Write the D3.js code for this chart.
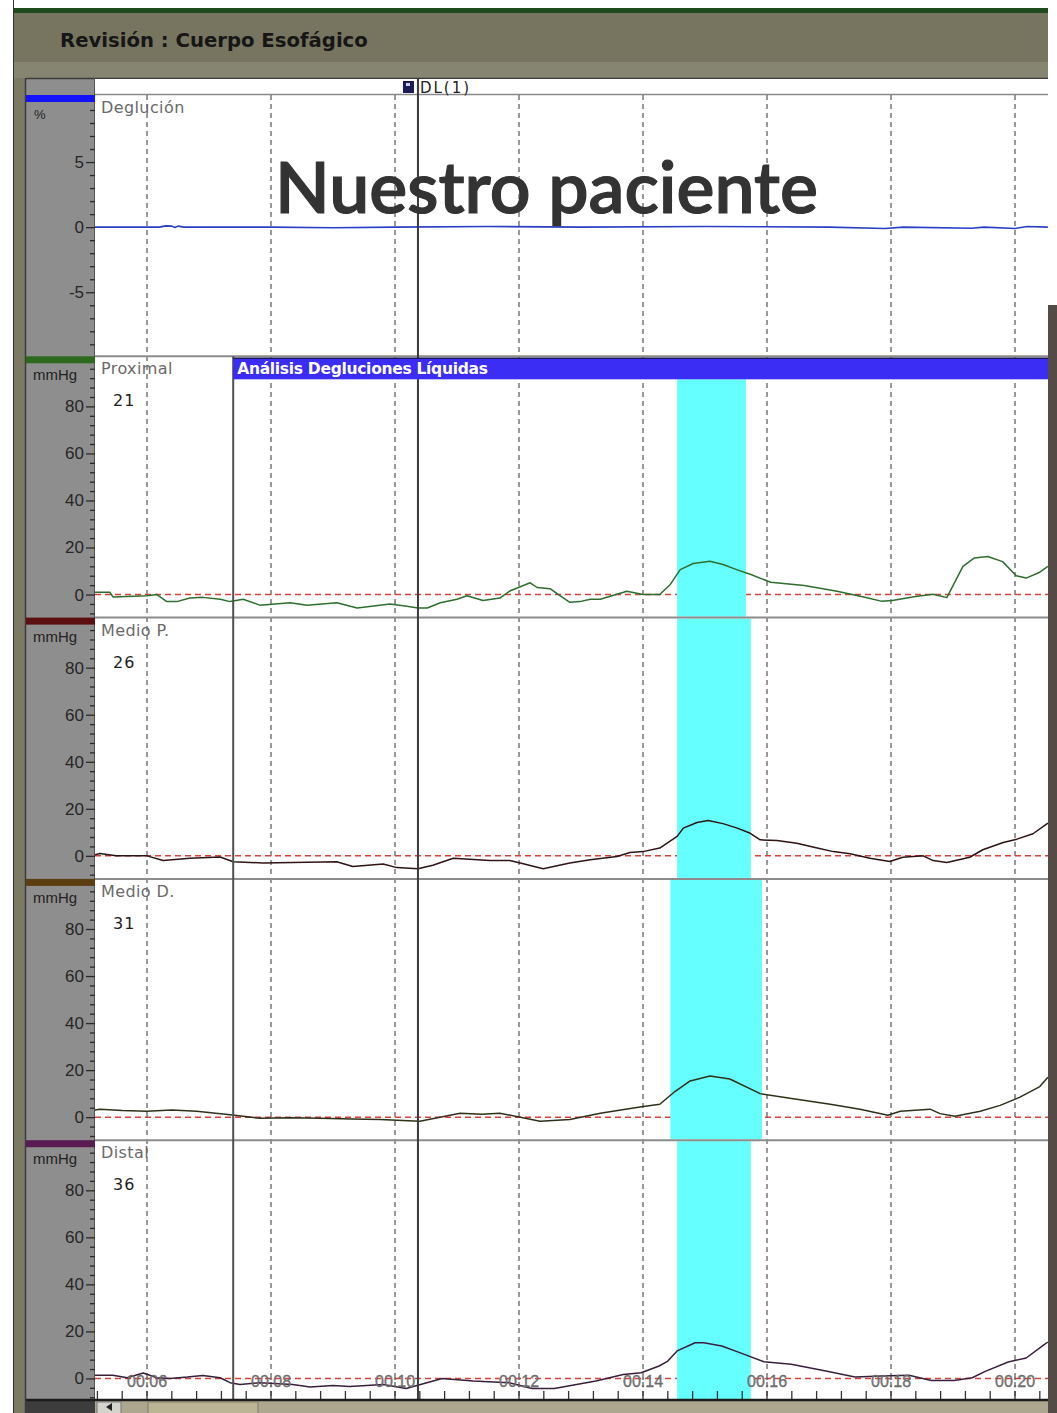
<!DOCTYPE html>
<html>
<head>
<meta charset="utf-8">
<script src="https://cdn.jsdelivr.net/npm/d3@7"></script>
<style>
  html, body { margin: 0; padding: 0; background: #ffffff; }
  svg { display: block; }
</style>
</head>
<body>
<div id="chart"></div>
<script>
// ---- Channels ---------------------------------------------------------
const channelNames   = ["Deglución", "Proximal", "Medio P.", "Medio D.", "Distal"];
const channelUnits   = ["%", "mmHg", "mmHg", "mmHg", "mmHg"];
const channelNumbers = ["", "21", "26", "31", "36"];

// ---- Axis ticks -------------------------------------------------------
const timeTicks      = [6, 8, 10, 12, 14, 16, 18, 20];
const timeTickLabels = ["00:06", "00:08", "00:10", "00:12", "00:14", "00:16", "00:18", "00:20"];
const swallowTicks   = [-5, 0, 5];
const pressureTicks  = [0, 20, 40, 60, 80];

// ---- Traces (time in s, value in % or mmHg) --------------------------
const deglucionT = [5.16, 6.2, 6.3, 6.4, 6.45, 6.5, 6.6, 8.0, 9.0, 10.0, 11.5, 13.0, 15.0, 17.0, 17.9, 18.2, 19.3, 19.5, 20.0, 20.2, 20.53];
const deglucionV = [0, 0, 0.1, 0.08, -0.03, 0.08, 0, 0, -0.05, 0, 0.05, 0, 0.05, 0, -0.1, 0, -0.08, 0, -0.1, 0.05, 0];

const proximalT = [5.16, 5.40, 5.45, 6.0, 6.16, 6.32, 6.48, 6.69, 6.9, 7.18, 7.34, 7.55, 7.82, 8.31, 8.58, 9.06, 9.39, 9.92, 10.19, 10.37, 10.52, 10.73, 11.0, 11.16, 11.42, 11.69, 11.85, 12.18, 12.29, 12.5, 12.66, 12.82, 12.98, 13.15, 13.31, 13.74, 14.0, 14.27, 14.44, 14.6, 14.81, 15.08, 15.29, 15.51, 15.74, 16.06, 16.6, 17.13, 17.56, 17.84, 18.02, 18.42, 18.68, 18.9, 19.16, 19.34, 19.56, 19.8, 20.02, 20.18, 20.4, 20.53];
const proximalV = [1, 1, -1, -0.5, 0, -3, -3, -1.5, -1.2, -2, -3, -2, -4.5, -3.5, -4.5, -3.5, -5.7, -4, -5, -5.7, -5.7, -3.5, -2, -0.5, -2.5, -1.5, 1.5, 5, 3, 2.5, -0.5, -3.3, -3, -2, -2, 1.4, 0, 0, 4.3, 10.6, 13.2, 14.2, 12.8, 10.6, 8.5, 5.2, 3.8, 1.4, -1, -2.8, -2.5, -0.7, 0.1, -1.3, 12, 15.5, 16.2, 14, 8, 7, 9.5, 12];

const medioPT = [5.16, 5.24, 5.5, 6.0, 6.26, 6.69, 7.18, 7.39, 7.87, 9.06, 9.32, 9.81, 10.03, 10.37, 10.61, 10.94, 11.53, 11.85, 12.02, 12.39, 12.82, 13.15, 13.58, 13.79, 14.0, 14.27, 14.55, 14.65, 14.87, 15.05, 15.29, 15.52, 15.73, 15.89, 16.16, 16.48, 16.81, 17.07, 17.34, 17.66, 17.98, 18.19, 18.52, 18.68, 18.9, 19.27, 19.48, 19.81, 20.03, 20.29, 20.53];
const medioPV = [0.5, 1, 0, 0, -2, -1, -0.5, -2.5, -3, -2.5, -4.5, -3.5, -5, -5.5, -4, -1, -2, -2, -3, -5.5, -3, -1.7, -0.3, 1.4, 1.8, 3.3, 8.3, 11.8, 14.2, 15, 13.7, 11.8, 9.6, 6.8, 6.5, 5.4, 3.3, 1.8, 0.9, -1, -2.4, -0.6, 0, -2, -2.8, -0.6, 2.6, 5.7, 7.1, 9.4, 13.9];

const medioDT = [5.16, 5.24, 5.6, 6.0, 6.4, 6.8, 7.34, 7.82, 8.3, 8.79, 9.3, 9.76, 10.4, 11.05, 11.4, 11.69, 12.34, 12.82, 13.31, 13.95, 14.27, 14.52, 14.76, 15.08, 15.4, 15.89, 16.37, 17.02, 17.5, 17.95, 18.15, 18.63, 18.79, 19.03, 19.44, 19.76, 20.08, 20.4, 20.53];
const medioDV = [3, 3.4, 2.8, 2.5, 3, 2.5, 1, -0.5, -0.3, -0.5, -0.8, -1, -1.7, 1.7, 1.2, 1.7, -1.7, -1, 1.7, 4.3, 5.5, 11, 15.4, 17.5, 16.2, 10, 8, 5.5, 3.4, 0.8, 2.5, 3.4, 1.5, 0.4, 2.5, 5, 8.5, 13, 17];

const distalT = [5.16, 5.45, 5.68, 5.94, 6.16, 6.37, 6.65, 6.9, 7.18, 7.34, 7.5, 7.82, 8.35, 8.63, 9.0, 9.27, 9.81, 10.18, 10.76, 11.26, 11.84, 12.21, 12.57, 13.24, 13.68, 13.97, 14.26, 14.4, 14.55, 14.84, 14.98, 15.27, 15.56, 15.95, 16.39, 16.97, 17.42, 17.85, 18.29, 18.65, 19.02, 19.31, 19.52, 19.89, 20.18, 20.47, 20.53];
const distalV = [1.4, 1.4, 0.3, 2.3, 0.3, 0, 0.6, 1.3, 0.3, -1.8, -2.6, -1.8, -2.6, -3.6, -3, -3.4, -2.6, -4.3, 0, -1.1, -1.8, -4.3, -4.3, -1.1, 1.7, 2.4, 5.3, 7.4, 11.7, 15.2, 15.2, 13.8, 11, 7.1, 6, 3.1, 0.6, 1, 1.4, -0.9, -0.9, 0.3, 3, 7, 8.7, 14.4, 15.5];

const traceT = [deglucionT, proximalT, medioPT, medioDT, distalT];
const traceV = [deglucionV, proximalV, medioPV, medioDV, distalV];

// ---- Swallow analysis windows per pressure channel (s) ----------------
const windowStart = [14.55, 14.55, 14.44, 14.55];
const windowEnd   = [15.66, 15.74, 15.92, 15.74];
const analysisStart = 7.39;   // start of "Análisis Degluciones Líquidas"
const cursorTime    = 10.37;  // DL(1) marker

// ---- Look ------------------------------------------------------------
const W = 1057, H = 1413;
const plotL = 95, plotR = 1048;
const stripTop = 78, firstTop = 95, panelH = 261.3;
const plotBottom = 1399;
const traceColors = ["#2b3ec8", "#2f6e2f", "#2e1414", "#30301a", "#3a1f3c"];
const barColors   = ["#1212ff", "#2d6a1e", "#5c0f0f", "#5c3d10", "#5a1a52"];

const svg = d3.select("#chart").append("svg")
  .attr("width", W).attr("height", H)
  .attr("viewBox", `0 0 ${W} ${H}`);

const x = d3.scaleLinear().domain([5.161, 20.532]).range([plotL, plotR]);

// Scale a text's font size so it spans a given width
function fitWidth(sel, width) {
  const size = +sel.attr("font-size");
  const w = sel.node().getComputedTextLength();
  sel.attr("font-size", size * width / w);
  return sel;
}

// Window frame
svg.append("rect").attr("x", 0).attr("y", 0).attr("width", W).attr("height", H).attr("fill", "#ffffff");
svg.append("line").attr("x1", 13.5).attr("x2", 13.5).attr("y1", 0).attr("y2", H).attr("stroke", "#333").attr("stroke-width", 1);
svg.append("rect").attr("x", 14).attr("y", 13).attr("width", plotR - 14).attr("height", H - 13).attr("fill", "#7c7a65");
svg.append("rect").attr("x", 14).attr("y", 8).attr("width", plotR - 14).attr("height", 5).attr("fill", "#1e4a1e");
svg.append("rect").attr("x", 14).attr("y", 13).attr("width", plotR - 14).attr("height", 49).attr("fill", "#77755f");
svg.append("rect").attr("x", 14).attr("y", 62).attr("width", plotR - 14).attr("height", 16).attr("fill", "#868571");
svg.append("rect").attr("x", plotR).attr("y", 305).attr("width", W - plotR).attr("height", H - 305).attr("fill", "#544b46");

fitWidth(svg.append("text")
  .attr("x", 60).attr("y", 47)
  .attr("font-family", "'DejaVu Sans', Verdana, sans-serif")
  .attr("font-weight", "bold").attr("font-size", 18)
  .attr("fill", "#161616")
  .text("Revisión : Cuerpo Esofágico"), 308);

// Axis column and plot surface
svg.append("rect").attr("x", 26).attr("y", stripTop).attr("width", plotL - 26).attr("height", plotBottom - stripTop).attr("fill", "#8e8e8e");
svg.append("line").attr("x1", 25.5).attr("x2", 25.5).attr("y1", stripTop).attr("y2", H).attr("stroke", "#3c3c3c").attr("stroke-width", 1.5);
svg.append("line").attr("x1", 26).attr("x2", plotR).attr("y1", stripTop + 0.5).attr("y2", stripTop + 0.5).attr("stroke", "#3c3c3c").attr("stroke-width", 1.5);
svg.append("rect").attr("x", plotL).attr("y", stripTop + 1).attr("width", plotR - plotL).attr("height", plotBottom - stripTop - 1).attr("fill", "#ffffff");
svg.append("line").attr("x1", plotL).attr("x2", plotR).attr("y1", firstTop - 0.5).attr("y2", firstTop - 0.5).attr("stroke", "#8a8a8a").attr("stroke-width", 1.5);
svg.append("line").attr("x1", plotL - 0.5).attr("x2", plotL - 0.5).attr("y1", stripTop).attr("y2", plotBottom).attr("stroke", "#555").attr("stroke-width", 1);

// Vertical time grid
svg.append("g").selectAll("line").data(timeTicks).join("line")
  .attr("x1", d => x(d)).attr("x2", d => x(d))
  .attr("y1", firstTop).attr("y2", plotBottom)
  .attr("stroke", "#6e6e6e").attr("stroke-width", 1.4)
  .attr("stroke-dasharray", "5,4");

// Panels
const panels = channelNames.map((name, i) => {
  const top = firstTop + i * panelH;
  const y = d3.scaleLinear()
    .domain(i === 0 ? [-9.92, 10.15] : [-9.8, 101.3])
    .range([top + panelH, top]);
  return { name, i, top, y };
});

const defs = svg.append("defs");
panels.forEach(p => {
  defs.append("clipPath").attr("id", "clip" + p.i)
    .append("rect").attr("x", plotL).attr("y", p.top).attr("width", plotR - plotL).attr("height", panelH);
});

// Zero reference lines for pressure channels
panels.slice(1).forEach(p => {
  svg.append("line")
    .attr("x1", plotL).attr("x2", plotR)
    .attr("y1", p.y(0)).attr("y2", p.y(0))
    .attr("stroke", "#d9413a").attr("stroke-width", 1.5)
    .attr("stroke-dasharray", "6,4");
});

// Swallow analysis windows
const analysisBarBottom = panels[1].top + 23;
panels.slice(1).forEach((p, k) => {
  const y0 = k === 0 ? analysisBarBottom : p.top + 1;
  svg.append("rect")
    .attr("x", x(windowStart[k])).attr("y", y0)
    .attr("width", x(windowEnd[k]) - x(windowStart[k]))
    .attr("height", p.top + panelH - 1 - y0)
    .attr("fill", "#66ffff");
});

// Traces
const line = d3.line().curve(d3.curveLinear);
panels.forEach(p => {
  const pts = traceT[p.i].map((t, j) => [x(t), p.y(traceV[p.i][j])]);
  svg.append("path")
    .attr("clip-path", `url(#clip${p.i})`)
    .attr("d", line(pts))
    .attr("fill", "none")
    .attr("stroke", traceColors[p.i])
    .attr("stroke-width", p.i === 0 ? 1.6 : 1.5)
    .attr("stroke-linejoin", "round");
});

// Panel separators
panels.slice(1).forEach(p => {
  svg.append("line")
    .attr("x1", plotL).attr("x2", plotR)
    .attr("y1", p.top).attr("y2", p.top)
    .attr("stroke", "#8c8c8c").attr("stroke-width", 2);
});

// Y axes, units and colour keys
panels.forEach(p => {
  const isSwallow = p.i === 0;
  const major = isSwallow ? swallowTicks : pressureTicks;
  const minor = isSwallow
    ? d3.range(-9, 11).filter(v => !major.includes(v))
    : d3.range(-8, 101, 4).filter(v => v % 20 !== 0);

  const gMinor = svg.append("g").attr("transform", `translate(${plotL},0)`)
    .call(d3.axisLeft(p.y).tickValues(minor).tickSize(5).tickFormat(""));
  gMinor.select(".domain").remove();
  gMinor.selectAll("line").attr("stroke", "#2a2a2a").attr("stroke-width", 1.3);

  const gMajor = svg.append("g").attr("transform", `translate(${plotL},0)`)
    .call(d3.axisLeft(p.y).tickValues(major).tickSize(9).tickPadding(2).tickFormat(d => String(d)));
  gMajor.select(".domain").remove();
  gMajor.selectAll("line").attr("stroke", "#2a2a2a").attr("stroke-width", 1.3);
  gMajor.selectAll("text")
    .attr("font-family", "'Liberation Sans', Arial, sans-serif")
    .attr("font-size", 17).attr("fill", "#262626");

  svg.append("rect").attr("x", 26).attr("y", p.top).attr("width", plotL - 26).attr("height", 7)
    .attr("fill", barColors[p.i]);
  const unit = svg.append("text")
    .attr("x", isSwallow ? 34 : 33).attr("y", p.top + 24)
    .attr("font-family", "'Liberation Sans', Arial, sans-serif")
    .attr("font-size", 13).attr("fill", "#222")
    .text(channelUnits[p.i]);
  if (!isSwallow) fitWidth(unit, 44);

  svg.append("text")
    .attr("x", 101).attr("y", p.top + 18)
    .attr("font-family", "'DejaVu Sans', Verdana, sans-serif")
    .attr("font-size", 16).attr("letter-spacing", 0.4).attr("fill", "#6a6a6a")
    .text(p.name);
  if (channelNumbers[p.i]) {
    svg.append("text")
      .attr("x", 113).attr("y", p.top + 50)
      .attr("font-family", "'DejaVu Sans', Verdana, sans-serif")
      .attr("font-size", 16).attr("letter-spacing", 1).attr("fill", "#1e1e1e")
      .text(channelNumbers[p.i]);
  }
});

// Analysis boundary and DL(1) cursor
svg.append("line")
  .attr("x1", x(analysisStart)).attr("x2", x(analysisStart))
  .attr("y1", panels[1].top).attr("y2", plotBottom)
  .attr("stroke", "#505050").attr("stroke-width", 2);
svg.append("line")
  .attr("x1", x(cursorTime)).attr("x2", x(cursorTime))
  .attr("y1", stripTop).attr("y2", plotBottom)
  .attr("stroke", "#3a3a3a").attr("stroke-width", 2);

// Analysis banner
svg.append("rect")
  .attr("x", x(analysisStart)).attr("y", panels[1].top + 2)
  .attr("width", plotR - x(analysisStart)).attr("height", 21)
  .attr("fill", "#3b2df4");
svg.append("line")
  .attr("x1", x(analysisStart)).attr("x2", plotR)
  .attr("y1", panels[1].top + 2).attr("y2", panels[1].top + 2)
  .attr("stroke", "#1a1a50").attr("stroke-width", 1.5);
fitWidth(svg.append("text")
  .attr("x", x(analysisStart) + 4).attr("y", panels[1].top + 18)
  .attr("font-family", "'DejaVu Sans', Verdana, sans-serif")
  .attr("font-weight", "bold").attr("font-size", 13).attr("letter-spacing", -0.3)
  .attr("fill", "#ffffff")
  .text("Análisis Degluciones Líquidas"), 249);

// DL(1) marker in the event strip
svg.append("rect").attr("x", x(cursorTime) - 15).attr("y", 81).attr("width", 11).attr("height", 12).attr("fill", "#1b1b55");
svg.append("rect").attr("x", x(cursorTime) - 12).attr("y", 83).attr("width", 4).attr("height", 3).attr("fill", "#cfd2ff");
svg.append("text")
  .attr("x", x(cursorTime) + 2).attr("y", 93)
  .attr("font-family", "'DejaVu Sans', Verdana, sans-serif")
  .attr("font-size", 15).attr("letter-spacing", 2).attr("fill", "#222")
  .text("DL(1)");

// Time axis along the bottom of the last channel
const minorTimes = d3.range(5.2, 20.5, 0.4);
svg.append("g").selectAll("line").data(minorTimes).join("line")
  .attr("x1", d => x(d)).attr("x2", d => x(d))
  .attr("y1", plotBottom - 8).attr("y2", plotBottom)
  .attr("stroke", "#333").attr("stroke-width", 1.3);
svg.append("g").selectAll("text").data(timeTicks).join("text")
  .attr("x", d => x(d)).attr("y", plotBottom - 12)
  .attr("text-anchor", "middle")
  .attr("font-family", "'Liberation Sans', Arial, sans-serif")
  .attr("font-size", 16).attr("fill", "#777")
  .attr("stroke", "#555").attr("stroke-width", 0.3)
  .text((d, i) => timeTickLabels[i]);

// Scroll bar
svg.append("rect").attr("x", 26).attr("y", plotBottom).attr("width", plotR - 26).attr("height", H - plotBottom).attr("fill", "#aca78e");
svg.append("rect").attr("x", 26).attr("y", plotBottom).attr("width", plotL - 26).attr("height", H - plotBottom).attr("fill", "#3d3d3d");
svg.append("line").attr("x1", 26).attr("x2", plotR).attr("y1", plotBottom + 1).attr("y2", plotBottom + 1).attr("stroke", "#1c1c1c").attr("stroke-width", 2.5);
svg.append("rect").attr("x", 97).attr("y", plotBottom + 3).attr("width", 24).attr("height", H - plotBottom).attr("fill", "#d4d4cc").attr("stroke", "#777").attr("stroke-width", 1);
svg.append("path").attr("d", `M106,${plotBottom + 8} l6,-4 l0,8 z`).attr("fill", "#222");
svg.append("rect").attr("x", 148).attr("y", plotBottom + 3).attr("width", 110).attr("height", H - plotBottom).attr("fill", "#bcb595").attr("stroke", "#7f7a64").attr("stroke-width", 1);

// Caption over the swallow channel
fitWidth(svg.append("text")
  .attr("x", 275).attr("y", 213)
  .attr("font-family", "Lato, 'Open Sans', sans-serif")
  .attr("font-weight", 600).attr("font-size", 66)
  .attr("fill", "#333333")
  .attr("stroke", "#333333").attr("stroke-width", 1.2)
  .text("Nuestro paciente"), 543);
</script>
</body>
</html>
